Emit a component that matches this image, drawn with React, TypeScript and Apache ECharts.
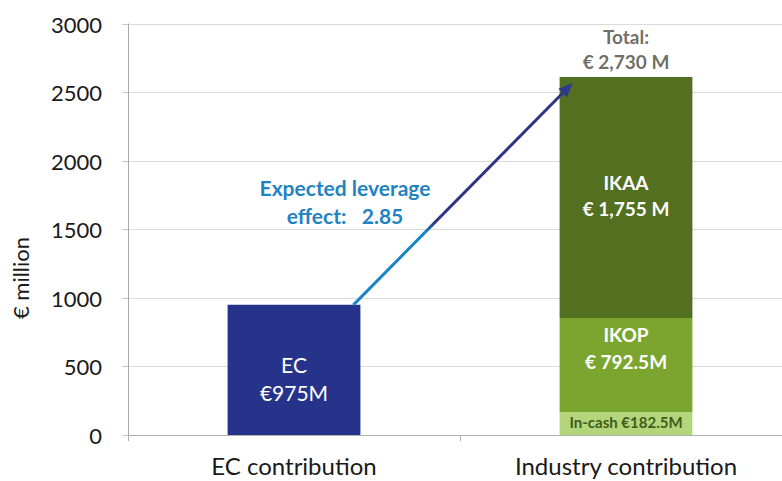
import React, { useEffect, useRef } from "react";
import * as echarts from "echarts";

const categories = ["EC contribution", "Industry contribution"];
const ecValues = [950, "-"];
const inCashValues = ["-", 168];
const ikopValues = ["-", 686];
const ikaaValues = ["-", 1759];
const totalValues = ["-", 2613];
const yTicks = { min: 0, max: 3000, interval: 500 };
const ecLabel = "EC\n€975M";
const inCashLabel = "In-cash €182.5M";
const ikopLabel = "IKOP\n€ 792.5M";
const ikaaLabel = "IKAA\n€ 1,755 M";
const totalLabel = "Total:\n€ 2,730 M";
const leverageText = "Expected leverage\neffect:   2.85";
const yAxisName = "€ million";

const FONT = "Lato, 'Open Sans', sans-serif";

export default function App() {
  const ref = useRef<HTMLDivElement>(null);
  useEffect(() => {
    if (!ref.current) return;
    const chart = echarts.init(ref.current, undefined, { renderer: "svg" });
    const barW = 0.4;
    const option: any = {
      animation: false,
      textStyle: { fontFamily: FONT },
      grid: { left: 128, right: 0, top: 24, bottom: 46, containLabel: false },
      xAxis: {
        type: "category",
        data: categories,
        axisLine: { lineStyle: { color: "#b0b0b0", width: 1 } },
        axisTick: { show: true, alignWithLabel: false, lineStyle: { color: "#b0b0b0" }, length: 6 },
        axisLabel: { color: "#1a1a1a", fontSize: 24, margin: 18, fontFamily: FONT },
      },
      yAxis: {
        type: "value",
        min: yTicks.min,
        max: yTicks.max,
        interval: yTicks.interval,
        axisLine: { show: true, lineStyle: { color: "#a8a8a8", width: 1 } },
        axisTick: { show: true, length: 6, lineStyle: { color: "#c8c8c8" } },
        axisLabel: {
          color: "#1a1a1a",
          fontSize: 22,
          margin: 26,
          fontFamily: FONT,
          formatter: (v: number) => String(v),
        },
        splitLine: { lineStyle: { color: "#dadada", width: 1 } },
      },
      graphic: [
        {
          type: "text",
          x: 20,
          y: 278,
          rotation: Math.PI / 2,
          style: {
            text: yAxisName,
            fontSize: 22,
            fill: "#1a1a1a",
            fontFamily: FONT,
            align: "center",
            verticalAlign: "middle",
          },
        },
      ],
      series: [
        {
          type: "bar",
          name: "EC",
          stack: "s",
          barWidth: barW * 100 + "%",
          data: ecValues,
          itemStyle: { color: "#26338a" },
          label: {
            show: true,
            position: "inside",
            offset: [0, 9],
            formatter: ecLabel,
            color: "#ffffff",
            fontSize: 21,
            lineHeight: 28,
            fontFamily: FONT,
          },
        },
        {
          type: "bar",
          name: "In-cash",
          stack: "s",
          data: inCashValues,
          itemStyle: { color: "#b3d67a" },
          label: {
            show: true,
            position: "inside",
            offset: [0, -1],
            formatter: inCashLabel,
            color: "#3f5d1c",
            fontSize: 15,
            fontWeight: "bold",
            fontFamily: FONT,
          },
        },
        {
          type: "bar",
          name: "IKOP",
          stack: "s",
          data: ikopValues,
          itemStyle: { color: "#7ca52f" },
          label: {
            show: true,
            position: "insideTop",
            distance: 3,
            formatter: ikopLabel,
            color: "#ffffff",
            fontSize: 19,
            fontWeight: "bold",
            lineHeight: 27,
            fontFamily: FONT,
          },
        },
        {
          type: "bar",
          name: "IKAA",
          stack: "s",
          data: ikaaValues,
          itemStyle: { color: "#536f20" },
          label: {
            show: true,
            position: "inside",
            offset: [0, -2],
            formatter: ikaaLabel,
            color: "#ffffff",
            fontSize: 19,
            fontWeight: "bold",
            lineHeight: 26,
            fontFamily: FONT,
          },
        },
        {
          type: "scatter",
          name: "Total",
          data: totalValues,
          symbolSize: 0,
          z: 5,
          label: {
            show: true,
            position: "top",
            distance: 3,
            formatter: totalLabel,
            color: "#48483a",
            fontSize: 19,
            fontWeight: "bold",
            lineHeight: 25,
            fontFamily: FONT,
          },
        },
        {
          type: "custom",
          name: "leverage",
          data: [[0, 0]],
          clip: false,
          z: 10,
          renderItem: (params: any, api: any) => {
            const ec = ecValues[0] as number;
            const tot = totalValues[1] as number;
            const p0 = api.coord([0, ec]);
            const p1 = api.coord([1, tot]);
            const bw = api.size([1, 0])[0] * barW;
            const s = [p0[0] + bw / 2 - 7, p0[1]];
            const e = [p1[0] - bw / 2 + 13, p1[1] + 6];
            const dx = e[0] - s[0];
            const dy = e[1] - s[1];
            const len = Math.sqrt(dx * dx + dy * dy);
            const ux = dx / len;
            const uy = dy / len;
            const headLen = 14;
            const headHalf = 6;
            const bx = e[0] - ux * headLen;
            const by = e[1] - uy * headLen;
            const grad = new echarts.graphic.LinearGradient(
              s[0], s[1], e[0], e[1],
              [
                { offset: 0, color: "#1a84c6" },
                { offset: 0.33, color: "#1a84c6" },
                { offset: 0.37, color: "#2e3385" },
                { offset: 1, color: "#2e3385" },
              ],
              true
            );
            const midX = (s[0] + e[0]) / 2;
            return {
              type: "group",
              children: [
                {
                  type: "line",
                  shape: { x1: s[0], y1: s[1], x2: bx, y2: by },
                  style: { stroke: grad, lineWidth: 3 },
                },
                {
                  type: "polygon",
                  shape: {
                    points: [
                      [e[0], e[1]],
                      [bx - uy * headHalf, by + ux * headHalf],
                      [bx + uy * headHalf, by - ux * headHalf],
                    ],
                  },
                  style: { fill: "#2b3a8c" },
                },
                {
                  type: "text",
                  x: midX - 118,
                  y: api.coord([0, 1910])[1],
                  style: {
                    text: leverageText,
                    fill: "#1f83c2",
                    fontSize: 21,
                    fontWeight: "bold",
                    lineHeight: 28,
                    align: "center",
                    verticalAlign: "top",
                    fontFamily: FONT,
                  },
                },
              ],
            };
          },
        },
      ],
    };
    chart.setOption(option);
    return () => chart.dispose();
  }, []);
  return (
    <div style={{ width: 782, height: 481, position: "absolute", left: 0, top: 0, overflow: "hidden" }}>
      <div ref={ref} style={{ width: 792, height: 481 }} />
    </div>
  );
}
